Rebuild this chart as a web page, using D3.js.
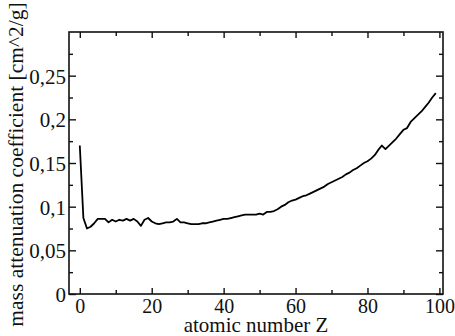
<!DOCTYPE html>
<html>
<head>
<meta charset="utf-8">
<script src="https://cdn.jsdelivr.net/npm/d3@7"></script>
</head>
<body style="margin:0; background:#fff">
<svg id="chart" style="display:block"></svg>
<script>
// atomic number Z and mass attenuation coefficient [cm^2/g]
let z_values = d3.range(0, 100);
let mu_values = [
  0.170, 0.087, 0.075, 0.077, 0.081, 0.086, 0.086, 0.086, 0.082, 0.085,
  0.083, 0.085, 0.084, 0.086, 0.084, 0.086, 0.083, 0.078, 0.085, 0.087,
  0.083, 0.081, 0.080, 0.081, 0.082, 0.082, 0.083, 0.086, 0.082, 0.082,
  0.081, 0.080, 0.080, 0.080, 0.081, 0.081, 0.082, 0.083, 0.084, 0.085,
  0.086, 0.086, 0.087, 0.088, 0.089, 0.090, 0.091, 0.091, 0.091, 0.091,
  0.092, 0.091, 0.094, 0.094, 0.095, 0.097, 0.100, 0.102, 0.105, 0.107,
  0.108, 0.110, 0.112, 0.113, 0.115, 0.117, 0.119, 0.121, 0.123, 0.126,
  0.128, 0.130, 0.132, 0.134, 0.137, 0.139, 0.142, 0.144, 0.147, 0.150,
  0.152, 0.155, 0.159, 0.165, 0.170, 0.166, 0.170, 0.174, 0.178, 0.183,
  0.188, 0.190, 0.197, 0.201, 0.205, 0.209, 0.214, 0.219, 0.225, 0.230
];
let x_ticks = [0, 20, 40, 60, 80, 100],
  x_minor = [10, 30, 50, 70, 90],
  y_ticks = [0, 0.05, 0.1, 0.15, 0.2, 0.25],
  y_tick_labels = ["0", "0,05", "0,1", "0,15", "0,2", "0,25"],
  y_minor = [0.025, 0.075, 0.125, 0.175, 0.225, 0.275];

let width = 455,
  height = 336,
  font = '"Liberation Serif"',
  margins = {left: 69, right: 12, top: 32, bottom: 42};

let svg = d3.select("#chart").attr("width", width).attr("height", height);

let x = d3.scaleLinear().domain([-3, 101]).range([margins.left, width - margins.right]),
  y = d3.scaleLinear().domain([0, 0.3]).range([height - margins.bottom, margins.top]);

let data = z_values.map((z, i) => ({z: z, mu: mu_values[i]}));

let bottom = height - margins.bottom, right = width - margins.right;

function add_axis(axis, tx, ty, size, values, labels) {
  let g = svg.append("g")
    .attr("transform", `translate(${tx}, ${ty})`)
    .attr("class", "axis")
    .call(axis.tickValues(values).tickSize(-size).tickPadding(labels ? 3 : 0)
      .tickFormat(labels ? labels : ""));
  g.attr("font-family", null).attr("font-size", null);
  g.select(".domain").remove();
  g.selectAll(".tick line").attr("stroke", "#111").attr("stroke-width", 1.4);
  g.selectAll("text").style("font-family", font).attr("fill", "#111");
  return g;
}

// x axis, bottom with labels, top without
add_axis(d3.axisBottom(x), 0, bottom, 6, x_ticks, d => d)
  .selectAll("text").style("font-size", "20px").attr("dy", "0.78em");
add_axis(d3.axisBottom(x), 0, bottom, 4, x_minor);
add_axis(d3.axisTop(x), 0, margins.top, 6, x_ticks);
add_axis(d3.axisTop(x), 0, margins.top, 4, x_minor);

// y axis, left with labels, right without
add_axis(d3.axisLeft(y), margins.left, 0, 7, y_ticks, (d, i) => y_tick_labels[i])
  .selectAll("text").style("font-size", "21px").attr("dy", "0.36em");
add_axis(d3.axisLeft(y), margins.left, 0, 4, y_minor);
add_axis(d3.axisRight(y), right, 0, 7, y_ticks);
add_axis(d3.axisRight(y), right, 0, 4, y_minor);

svg.append("rect")
  .attr("x", margins.left)
  .attr("y", margins.top)
  .attr("width", right - margins.left)
  .attr("height", bottom - margins.top)
  .attr("fill", "none")
  .attr("stroke", "#111")
  .attr("stroke-width", 1.6);

svg.append("path")
  .datum(data)
  .attr("fill", "none")
  .attr("stroke", "#000")
  .attr("stroke-width", 1.8)
  .attr("stroke-linejoin", "round")
  .attr("d", d3.line().x(d => x(d.z)).y(d => y(d.mu)));

svg.append("text")
  .attr("x", (margins.left + right) / 2)
  .attr("y", 332)
  .attr("text-anchor", "middle")
  .attr("fill", "#111")
  .style("font-family", font)
  .style("font-size", "21px")
  .text("atomic number Z");

svg.append("text")
  .attr("transform", `translate(23, 164.5) rotate(-90)`)
  .attr("text-anchor", "middle")
  .attr("fill", "#111")
  .style("font-family", font)
  .style("font-size", "21.5px")
  .text("mass attenuation coefficient [cm^2/g]");
</script>
</body>
</html>
